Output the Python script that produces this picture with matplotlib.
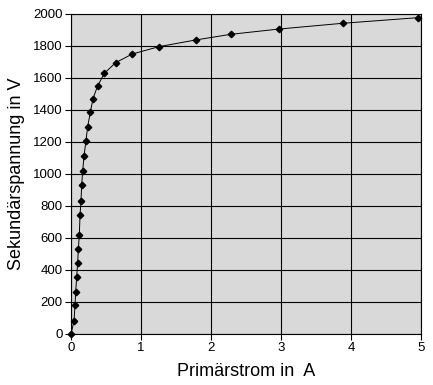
from matplotlib import pyplot as plt

# Primärstrom (A) und Sekundärspannung (V)
strom = [0.0, 0.043, 0.057, 0.067, 0.081, 0.095, 0.105, 0.119, 0.129, 0.143,
         0.152, 0.167, 0.186, 0.214, 0.238, 0.276, 0.314, 0.38, 0.476, 0.638,
         0.876, 1.257, 1.786, 2.281, 2.971, 3.881, 4.953]
spannung = [0, 81, 179, 262, 356, 444, 531, 621, 744, 831,
            929, 1019, 1114, 1208, 1296, 1385, 1471, 1550, 1629, 1696,
            1750, 1796, 1838, 1873, 1906, 1942, 1977]

x_ticks = [0, 1, 2, 3, 4, 5]
y_ticks = list(range(0, 2001, 200))


def main():
    plt.rcParams['font.family'] = ['Liberation Sans', 'DejaVu Sans']
    fig = plt.figure(figsize=(4.33, 3.85), dpi=100)
    ax = fig.add_axes([71 / 433, 1 - 334 / 385, 350 / 433, 320 / 385])
    ax.set_facecolor('#d9d9d9')

    ax.set_xlim(0, 5)
    ax.set_ylim(0, 2000)
    ax.set_xticks(x_ticks)
    ax.set_yticks(y_ticks)
    ax.grid(color='black', linewidth=0.8)
    ax.set_axisbelow(True)
    for s in ax.spines.values():
        s.set_color('black')
        s.set_linewidth(0.8)
    ax.tick_params(direction='out', length=4, width=0.8, color='black',
                   labelsize=9.5, pad=2)

    ax.plot(strom, spannung, color='black', linewidth=0.7,
            marker='D', markersize=3.3, markerfacecolor='black', clip_on=False)

    ax.set_xlabel('Primärstrom in  A', size=13, labelpad=6)
    ax.set_ylabel('Sekundärspannung in V', size=13, labelpad=6)

    fig.savefig('out.png', dpi=100)


if __name__ == '__main__':
    main()
